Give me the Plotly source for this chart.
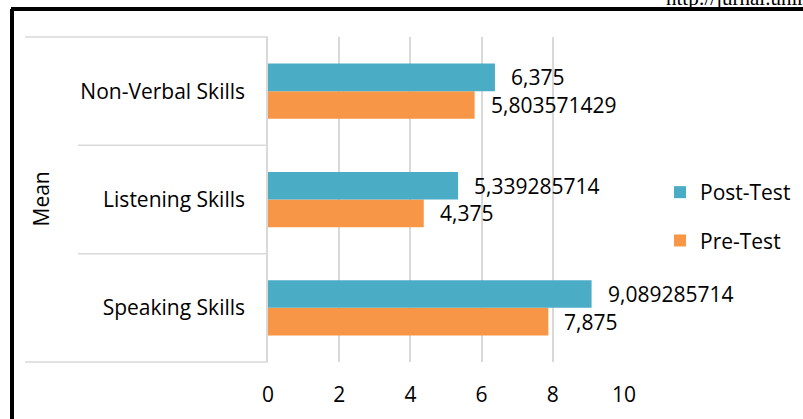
import plotly.graph_objects as go

categories = ["Speaking Skills", "Listening Skills", "Non-Verbal Skills"]
post_test = [9.089285714, 5.339285714, 6.375]
pre_test = [7.875, 4.375, 5.803571429]
x_ticks = [0, 2, 4, 6, 8, 10]
group_label = "Mean"

POST_COLOR = "#4BACC6"
PRE_COLOR = "#F79646"
FONT = "Open Sans"
FS = 21

W, H = 803, 419
L, R, T, B = 268, 624, 37, 362  # plot area in px
MR = 10
pw = W - MR - L
ph = B - T


def px_x(px):
    return (px - L) / pw


def px_y(py):
    return (B - py) / ph


def fmt(v):
    return f"{v:.10g}".replace(".", ",")


fig = go.Figure()
fig.add_trace(go.Bar(y=categories, x=pre_test, name="Pre-Test", orientation="h",
                     legendgroup="pre", legendrank=2,
                     marker=dict(color=PRE_COLOR, line=dict(width=0))))
fig.add_trace(go.Bar(y=categories, x=post_test, name="Post-Test", orientation="h",
                     legendgroup="post", legendrank=1,
                     marker=dict(color=POST_COLOR, line=dict(width=0))))

annotations = []
bar_px = ph / 3 * (1 - 0.49) / 2
for cat, v in zip(categories, post_test):
    annotations.append(dict(x=v, y=cat, xref="x", yref="y", text=fmt(v), showarrow=False,
                            xanchor="left", yanchor="middle", xshift=14, yshift=bar_px / 2,
                            font=dict(family=FONT, size=FS, color="#000")))
for cat, v in zip(categories, pre_test):
    annotations.append(dict(x=v, y=cat, xref="x", yref="y", text=fmt(v), showarrow=False,
                            xanchor="left", yanchor="middle", xshift=14, yshift=-bar_px / 2,
                            font=dict(family=FONT, size=FS, color="#000")))

annotations.append(dict(x=px_x(40), y=0.5, xref="paper", yref="paper", text=group_label,
                        showarrow=False, textangle=-90, xanchor="center", yanchor="middle",
                        font=dict(family=FONT, size=FS, color="#000")))
annotations.append(dict(x=px_x(664), y=px_y(12), xref="paper", yref="paper",
                        text="http://jurnal.unimed.ac.id", showarrow=False,
                        xanchor="left", yanchor="bottom",
                        font=dict(family="Liberation Serif", size=21, color="#000")))

grey = "#d9d9d9"
shapes = []
for yy, x0 in [(0, 25), (1 / 3, 78), (2 / 3, 78), (1, 25)]:
    shapes.append(dict(type="line", xref="paper", yref="paper", x0=px_x(x0), x1=0,
                       y0=yy, y1=yy, line=dict(color=grey, width=1.5)))
# outer black frame (top and left edges)
shapes.append(dict(type="line", xref="paper", yref="paper", x0=px_x(11), x1=px_x(W + 10),
                   y0=px_y(9), y1=px_y(9), line=dict(color="#000", width=4)))
shapes.append(dict(type="line", xref="paper", yref="paper", x0=px_x(12), x1=px_x(12),
                   y0=px_y(9), y1=px_y(H + 10), line=dict(color="#000", width=4)))

fig.update_layout(
    width=W, height=H,
    margin=dict(l=L, r=MR, t=T, b=H - B, pad=0, autoexpand=False),
    paper_bgcolor="white", plot_bgcolor="white",
    barmode="group", bargap=0.49, bargroupgap=0,
    showlegend=True,
    legend=dict(traceorder="grouped", x=px_x(660), y=px_y(172), xanchor="left", yanchor="top",
                font=dict(family=FONT, size=FS, color="#000"), itemwidth=30,
                tracegroupgap=18, bgcolor="rgba(0,0,0,0)"),
    xaxis=dict(domain=[0, (R - L) / pw], range=[0, 10], tickvals=x_ticks, showgrid=True,
               gridcolor=grey, gridwidth=1.5,
               zeroline=False, showline=False, ticks="", ticklabelstandoff=18,
               tickfont=dict(family=FONT, size=FS, color="#000")),
    yaxis=dict(showgrid=False, zeroline=False, showline=True, linecolor=grey, linewidth=1.5,
               ticks="", ticklabelstandoff=17,
               tickfont=dict(family=FONT, size=FS, color="#000")),
    annotations=annotations,
    shapes=shapes,
)

fig.write_html("out.html")
